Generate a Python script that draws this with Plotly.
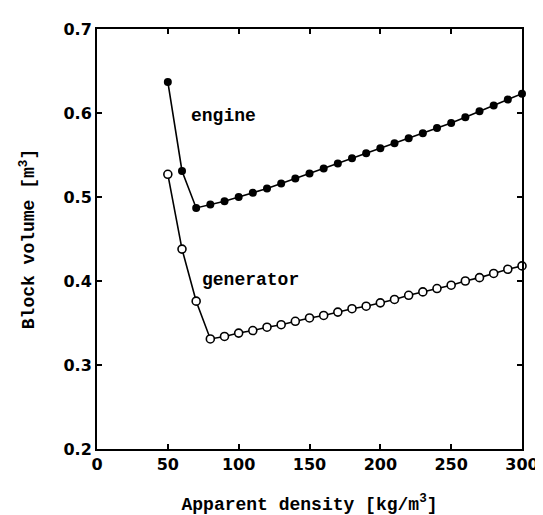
import plotly.graph_objects as go

density = [50, 60, 70, 80, 90, 100, 110, 120, 130, 140, 150, 160, 170, 180, 190,
           200, 210, 220, 230, 240, 250, 260, 270, 280, 290, 300]
engine = [0.637, 0.531, 0.487, 0.491, 0.495, 0.500, 0.505, 0.510, 0.516, 0.522,
          0.528, 0.534, 0.540, 0.546, 0.552, 0.558, 0.564, 0.570, 0.576, 0.582,
          0.588, 0.595, 0.602, 0.609, 0.616, 0.623]
generator = [0.527, 0.438, 0.376, 0.331, 0.334, 0.338, 0.341, 0.345, 0.348, 0.352,
             0.356, 0.359, 0.363, 0.367, 0.370, 0.374, 0.378, 0.383, 0.387, 0.391,
             0.395, 0.400, 0.404, 0.409, 0.414, 0.418]
x_ticks = [0, 50, 100, 150, 200, 250, 300]
y_ticks = [0.2, 0.3, 0.4, 0.5, 0.6, 0.7]

mono = "Liberation Mono, Courier New, monospace"
sans = "DejaVu Sans, Arial, sans-serif"

fig = go.Figure()
fig.add_trace(go.Scatter(
    x=density, y=engine, mode="lines+markers", name="engine",
    line=dict(color="black", width=1.6),
    marker=dict(symbol="circle", size=8, color="black"),
    cliponaxis=False,
))
fig.add_trace(go.Scatter(
    x=density, y=generator, mode="lines+markers", name="generator",
    line=dict(color="black", width=1.6),
    marker=dict(symbol="circle", size=8, color="white",
                line=dict(color="black", width=1.6)),
    cliponaxis=False,
))

fig.add_annotation(x=89, y=0.596, text="<b>engine</b>", showarrow=False,
                   font=dict(family=mono, size=18, color="black"))
fig.add_annotation(x=108, y=0.401, text="<b>generator</b>", showarrow=False,
                   font=dict(family=mono, size=18, color="black"))

fig.update_layout(
    width=543, height=515,
    margin=dict(l=89, r=26, t=13, b=69),
    paper_bgcolor="white", plot_bgcolor="white",
    showlegend=False,
    xaxis=dict(
        range=[0, 300], tickvals=x_ticks, ticks="inside", ticklen=5,
        tickwidth=1.5, tickcolor="black", mirror="ticks", showline=True,
        linecolor="black", linewidth=2, showgrid=False, zeroline=False,
        tickfont=dict(family=sans, size=16, color="black", weight="bold"),
        title=dict(text="<b>Apparent density [kg/m<sup>3</sup>]</b>",
                   font=dict(family=mono, size=18, color="black"), standoff=24),
    ),
    yaxis=dict(
        range=[0.2, 0.7], tickvals=y_ticks, ticktext=[f"{v:.1f}" for v in y_ticks],
        ticks="inside", ticklen=5,
        tickwidth=1.5, tickcolor="black", mirror="ticks", showline=True,
        linecolor="black", linewidth=2, showgrid=False, zeroline=False,
        tickfont=dict(family=sans, size=16, color="black", weight="bold"),
        title=dict(text="<b>Block volume [m<sup>3</sup>]</b>",
                   font=dict(family=mono, size=18, color="black"), standoff=24),
    ),
)

fig.write_html("out.html")
